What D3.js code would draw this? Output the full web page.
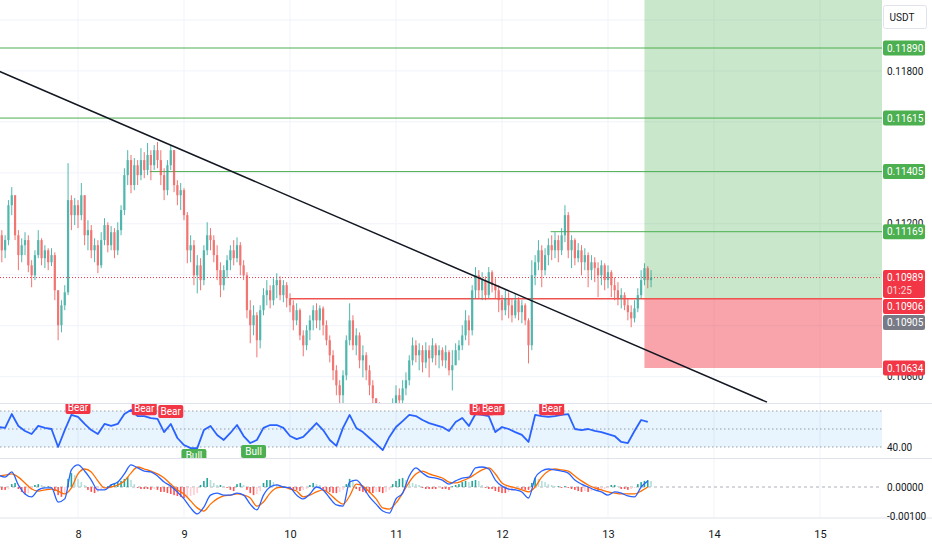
<!DOCTYPE html>
<html>
<head>
<meta charset="utf-8">
<script src="https://cdn.jsdelivr.net/npm/d3@7"></script>
<style>
  body { margin: 0; background: #fff; }
  svg { display: block; }
</style>
</head>
<body>
<svg id="chart" width="932" height="550"></svg>
<script>
// 45 minute bars, first bar on the 7th at 06:00 (UTC)
var t0 = Date.UTC(2024, 6, 7, 6, 0);
var barMinutes = 45;
var firstOpen = 0.11195;

var closes = [
  0.11155,0.11096,0.11136,0.11273,0.11312,0.11155,0.11077,0.11116,0.11136,0.11037,
  0.10998,0.11077,0.11136,0.11065,0.11096,0.11049,0.11077,0.10939,0.10802,0.10880,
  0.10931,0.11293,0.11234,0.11273,0.11234,0.11312,0.11155,0.11175,0.11096,0.11116,
  0.11037,0.11136,0.11195,0.11116,0.11167,0.11096,0.11175,0.11254,0.11391,0.11450,
  0.11352,0.11430,0.11391,0.11450,0.11411,0.11470,0.11430,0.11489,0.11450,0.11391,
  0.11332,0.11430,0.11489,0.11352,0.11312,0.11332,0.11234,0.11096,0.11116,0.10998,
  0.11037,0.10979,0.11096,0.11155,0.11136,0.11077,0.11018,0.10959,0.11018,0.11057,
  0.11096,0.11065,0.11116,0.11037,0.10998,0.10861,0.10802,0.10841,0.10743,0.10861,
  0.10920,0.10939,0.10900,0.10959,0.10979,0.10920,0.10959,0.10908,0.10880,0.10821,
  0.10861,0.10762,0.10723,0.10782,0.10821,0.10861,0.10821,0.10868,0.10802,0.10743,
  0.10684,0.10625,0.10566,0.10527,0.10605,0.10743,0.10821,0.10723,0.10762,0.10664,
  0.10684,0.10625,0.10566,0.10515,0.10487,0.10476,0.10468,0.10483,0.10460,0.10495,
  0.10527,0.10507,0.10554,0.10586,0.10664,0.10723,0.10684,0.10704,0.10656,0.10704,
  0.10672,0.10723,0.10684,0.10704,0.10664,0.10696,0.10625,0.10645,0.10704,0.10723,
  0.10762,0.10821,0.10782,0.10939,0.10998,0.10939,0.10979,0.10920,0.11010,0.10959,
  0.10939,0.10900,0.10861,0.10908,0.10880,0.10841,0.10900,0.10853,0.10880,0.10821,
  0.10723,0.10998,0.11049,0.11096,0.11018,0.11077,0.11116,0.11096,0.11136,0.11096,
  0.11155,0.11234,0.11096,0.11136,0.11065,0.11096,0.11049,0.11077,0.11018,0.11049,
  0.11026,0.10998,0.11037,0.10979,0.11010,0.10959,0.10939,0.10908,0.10920,0.10880,
  0.10853,0.10829,0.10868,0.10920,0.10979,0.11026,0.10979,0.10989
];

var highs = [
  0.11234,0.11175,0.11155,0.11293,0.11344,0.11312,0.11175,0.11143,0.11167,0.11155,
  0.11057,0.11096,0.11175,0.11143,0.11116,0.11104,0.11104,0.11088,0.10939,0.10900,
  0.10959,0.11438,0.11312,0.11301,0.11293,0.11360,0.11312,0.11214,0.11195,0.11143,
  0.11136,0.11167,0.11222,0.11206,0.11191,0.11183,0.11206,0.11273,0.11418,0.11489,
  0.11470,0.11458,0.11450,0.11497,0.11481,0.11517,0.11489,0.11509,0.11521,0.11489,
  0.11418,0.11450,0.11509,0.11489,0.11371,0.11360,0.11340,0.11246,0.11155,0.11136,
  0.11077,0.11065,0.11116,0.11206,0.11183,0.11155,0.11116,0.11049,0.11037,0.11077,
  0.11116,0.11136,0.11147,0.11128,0.11057,0.11010,0.10900,0.10880,0.10853,0.10880,
  0.10947,0.10979,0.10959,0.10986,0.11006,0.10994,0.10979,0.10971,0.10927,0.10900,
  0.10888,0.10868,0.10782,0.10802,0.10841,0.10880,0.10888,0.10880,0.10876,0.10821,
  0.10762,0.10704,0.10645,0.10586,0.10625,0.10762,0.10888,0.10841,0.10790,0.10774,
  0.10723,0.10696,0.10645,0.10586,0.10515,0.10499,0.10491,0.10495,0.10487,0.10515,
  0.10566,0.10554,0.10586,0.10617,0.10684,0.10754,0.10743,0.10731,0.10723,0.10735,
  0.10723,0.10751,0.10731,0.10723,0.10715,0.10723,0.10704,0.10704,0.10731,0.10743,
  0.10802,0.10861,0.10841,0.10959,0.11030,0.11018,0.11010,0.10994,0.11030,0.11018,
  0.10986,0.10959,0.10920,0.10939,0.10931,0.10908,0.10927,0.10912,0.10900,0.10888,
  0.10829,0.11057,0.11077,0.11136,0.11116,0.11104,0.11143,0.11155,0.11167,0.11155,
  0.11183,0.11273,0.11246,0.11155,0.11143,0.11124,0.11116,0.11104,0.11088,0.11077,
  0.11069,0.11049,0.11057,0.11045,0.11037,0.11018,0.10990,0.10971,0.10947,0.10931,
  0.10908,0.10880,0.10900,0.10947,0.11018,0.11045,0.11034,0.11018
];

var lows = [
  0.11136,0.11049,0.11065,0.11116,0.11234,0.11136,0.11018,0.11049,0.11077,0.11010,
  0.10951,0.10979,0.11065,0.11037,0.11026,0.11018,0.11034,0.10900,0.10743,0.10774,
  0.10861,0.10920,0.11175,0.11195,0.11183,0.11214,0.11116,0.11096,0.11065,0.11049,
  0.11006,0.11026,0.11116,0.11088,0.11096,0.11065,0.11077,0.11155,0.11234,0.11352,
  0.11320,0.11332,0.11352,0.11371,0.11379,0.11391,0.11371,0.11411,0.11418,0.11352,
  0.11293,0.11312,0.11411,0.11324,0.11273,0.11254,0.11214,0.11045,0.11049,0.10959,
  0.10927,0.10939,0.10959,0.11077,0.11096,0.11049,0.10979,0.10912,0.10939,0.10986,
  0.11018,0.11037,0.11049,0.10998,0.10979,0.10829,0.10731,0.10762,0.10676,0.10711,
  0.10841,0.10880,0.10868,0.10880,0.10908,0.10900,0.10892,0.10872,0.10853,0.10782,
  0.10802,0.10743,0.10680,0.10704,0.10743,0.10782,0.10790,0.10782,0.10762,0.10723,
  0.10656,0.10586,0.10527,0.10495,0.10495,0.10586,0.10723,0.10704,0.10684,0.10633,
  0.10597,0.10586,0.10527,0.10487,0.10460,0.10448,0.10436,0.10428,0.10428,0.10444,
  0.10468,0.10476,0.10487,0.10527,0.10566,0.10645,0.10656,0.10625,0.10617,0.10633,
  0.10597,0.10656,0.10645,0.10633,0.10641,0.10633,0.10605,0.10546,0.10652,0.10664,
  0.10704,0.10743,0.10723,0.10762,0.10908,0.10908,0.10900,0.10900,0.10908,0.10931,
  0.10908,0.10853,0.10821,0.10841,0.10829,0.10813,0.10829,0.10821,0.10810,0.10802,
  0.10652,0.10704,0.10959,0.11018,0.10951,0.10998,0.11037,0.11057,0.11065,0.11049,
  0.11077,0.11128,0.11065,0.11026,0.11037,0.11049,0.10998,0.11018,0.10951,0.10979,
  0.10971,0.10912,0.10959,0.10939,0.10947,0.10912,0.10900,0.10880,0.10868,0.10861,
  0.10821,0.10794,0.10813,0.10853,0.10908,0.10959,0.10947,0.10951
];

// RSI / MACD / signal are read every second bar
var indicatorStep = 2;

var rsi = [
  51.1,50.6,58.3,51.7,48.9,47.2,51.7,50.6,50.0,40.0,
  49.4,57.8,56.7,52.8,49.4,47.2,52.8,51.7,52.8,58.3,
  60.6,57.2,57.2,56.1,55.6,48.3,52.8,45.0,41.1,39.4,
  39.4,49.4,51.7,46.7,43.9,47.8,52.2,46.1,42.2,43.9,
  50.6,52.2,52.2,50.6,46.1,44.4,45.6,49.4,53.3,49.4,
  43.9,40.6,50.6,57.8,50.6,48.3,45.0,41.7,38.3,45.6,
  51.1,54.4,57.8,57.2,55.0,53.3,52.2,51.1,48.9,53.9,
  56.1,51.7,58.3,57.8,57.2,48.3,51.1,50.0,48.3,46.7,
  42.8,57.8,57.2,56.7,57.2,57.8,58.3,50.0,49.4,50.0,
  48.9,48.3,47.2,46.1,42.8,42.2,48.9,55.0,53.9
];

var macd = [
  0.00041,0.00034,0.00052,0.00007,-0.00024,-0.00034,-0.00010,-0.00003,-0.00003,-0.00052,
  -0.00041,0.00059,0.00076,0.00055,0.00024,-0.00010,-0.00010,0.00007,0.00017,0.00045,
  0.00076,0.00066,0.00055,0.00052,0.00038,0.00017,0.00003,-0.00017,-0.00041,-0.00072,
  -0.00093,-0.00069,-0.00028,-0.00021,-0.00028,-0.00028,-0.00021,-0.00028,-0.00059,-0.00079,
  -0.00028,0.00000,0.00007,0.00000,-0.00003,-0.00028,-0.00041,-0.00024,0.00000,-0.00010,
  -0.00038,-0.00062,-0.00066,0.00017,0.00024,0.00000,-0.00034,-0.00059,-0.00083,-0.00090,
  -0.00041,-0.00021,0.00038,0.00066,0.00048,0.00034,0.00031,0.00024,0.00010,0.00021,
  0.00031,0.00034,0.00066,0.00069,0.00062,0.00024,0.00003,-0.00007,-0.00010,-0.00017,
  -0.00038,0.00031,0.00055,0.00062,0.00059,0.00055,0.00048,0.00024,0.00010,0.00000,
  -0.00010,-0.00017,-0.00028,-0.00017,-0.00021,-0.00031,-0.00034,0.00000,0.00021
];

var signal = [
  0.00038,0.00041,0.00045,0.00034,0.00014,-0.00007,-0.00014,-0.00010,-0.00007,-0.00014,
  -0.00024,-0.00003,0.00045,0.00062,0.00052,0.00021,-0.00003,0.00000,0.00007,0.00021,
  0.00048,0.00069,0.00062,0.00055,0.00045,0.00031,0.00010,-0.00010,-0.00024,-0.00048,
  -0.00072,-0.00083,-0.00059,-0.00041,-0.00031,-0.00028,-0.00024,-0.00028,-0.00038,-0.00066,
  -0.00052,-0.00021,-0.00003,0.00000,-0.00007,-0.00014,-0.00034,-0.00028,-0.00017,-0.00010,
  -0.00024,-0.00045,-0.00059,-0.00031,0.00010,0.00003,-0.00017,-0.00041,-0.00072,-0.00076,
  -0.00055,-0.00021,0.00017,0.00045,0.00055,0.00045,0.00038,0.00031,0.00017,0.00014,
  0.00021,0.00031,0.00045,0.00059,0.00066,0.00045,0.00014,0.00003,-0.00003,-0.00010,
  -0.00017,0.00000,0.00034,0.00055,0.00062,0.00059,0.00055,0.00038,0.00021,0.00007,
  -0.00003,-0.00010,-0.00017,-0.00021,-0.00024,-0.00024,-0.00024,-0.00014,0.00000
];

// histogram, one value per bar
var hist = [
  -0.00007,-0.00010,-0.00010,-0.00007,0.00010,0.00014,-0.00007,-0.00017,-0.00024,-0.00021,
  -0.00010,0.00007,0.00010,0.00007,0.00003,0.00003,-0.00003,-0.00014,-0.00028,-0.00034,
  -0.00021,0.00028,0.00048,0.00041,0.00028,0.00017,0.00007,-0.00010,-0.00017,-0.00021,
  -0.00017,-0.00010,-0.00003,0.00003,0.00010,0.00014,0.00017,0.00021,0.00028,0.00034,
  0.00024,0.00010,-0.00003,-0.00007,-0.00007,-0.00007,-0.00010,-0.00007,-0.00010,-0.00017,
  -0.00017,-0.00021,-0.00024,-0.00028,-0.00031,-0.00034,-0.00038,-0.00034,-0.00031,-0.00028,
  -0.00021,0.00007,0.00021,0.00031,0.00024,0.00014,0.00007,0.00007,0.00003,-0.00003,
  -0.00010,-0.00014,0.00010,0.00014,0.00007,-0.00010,-0.00021,-0.00028,-0.00024,-0.00014,
  0.00014,0.00024,0.00024,0.00017,0.00010,0.00007,0.00003,-0.00003,-0.00007,-0.00010,
  -0.00010,-0.00014,-0.00010,-0.00007,0.00007,0.00014,0.00010,0.00007,-0.00007,-0.00014,
  -0.00017,-0.00021,-0.00021,-0.00017,-0.00010,0.00010,0.00028,0.00021,-0.00007,-0.00014,
  -0.00017,-0.00021,-0.00021,-0.00021,-0.00017,-0.00017,-0.00021,-0.00017,-0.00010,0.00010,
  0.00021,0.00028,0.00031,0.00024,0.00017,0.00014,0.00010,0.00007,-0.00003,-0.00007,
  -0.00007,-0.00007,-0.00007,-0.00003,-0.00007,-0.00007,-0.00010,0.00003,0.00007,0.00010,
  0.00017,0.00021,0.00017,0.00021,0.00024,0.00021,0.00007,-0.00003,-0.00007,-0.00007,
  -0.00014,-0.00017,-0.00021,-0.00021,-0.00017,-0.00014,-0.00010,-0.00007,-0.00007,-0.00010,
  -0.00010,0.00014,0.00031,0.00028,0.00021,0.00017,0.00010,0.00007,0.00003,0.00003,
  -0.00003,0.00003,-0.00003,-0.00007,-0.00010,-0.00014,-0.00017,-0.00014,-0.00017,-0.00014,
  -0.00010,-0.00014,-0.00010,-0.00007,-0.00003,0.00007,0.00007,0.00003,-0.00007,-0.00007,
  -0.00010,-0.00007,-0.00003,0.00010,0.00017,0.00021,0.00024,0.00021
];

// divergence tags on the RSI (bar index, RSI level of the tag)
var bearBars = [24, 44, 52, 146, 149, 167];
var bearLevels = [62.0, 61.3, 59.7, 61.3, 61.3, 61.3];
var bullBars = [59, 77];
var bullLevels = [35.3, 37.5];

// drawings
var targetLevels = [0.11890, 0.11615, 0.11405, 0.11169];
var targetStarts = ["2024-07-07T00:00Z", "2024-07-07T00:00Z", "2024-07-08T16:15Z", "2024-07-12T11:00Z"];
var supportLevel = 0.10906;
var supportStart = "2024-07-10T00:00Z";
var trendStart = ["2024-07-07T06:00Z", 0.11800];
var trendEnd = ["2024-07-14T12:00Z", 0.10500];
var entryPrice = 0.10905;
var stopPrice = 0.10634;
var profitPrice = 0.12100;
var positionStart = "2024-07-13T08:15Z";
var positionEnd = "2024-07-16T00:00Z";
var countdown = "01:25";

// axes
var dayTicks = [8, 9, 10, 11, 12, 13, 14, 15];
var priceTicks = [0.106, 0.108, 0.110, 0.112, 0.114, 0.116, 0.118, 0.120];
var rsiTicks = [40];
var macdTicks = [0, -0.001];

var FONT = "Roboto, 'Liberation Sans', sans-serif";
var plotRight = 882;
var mainBottom = 403, rsiTop = 404, rsiBottom = 458, macdTop = 459, macdBottom = 517;

var svg = d3.select("#chart");

var barDate = function(i) { return new Date(t0 + i * barMinutes * 60000); };
var dayDate = function(d) { return new Date(Date.UTC(2024, 6, d)); };

var x = d3.scaleUtc()
  .domain([dayDate(8), dayDate(15)])
  .range([78, 820]);

var y = d3.scaleLinear()
  .domain([0.11890, 0.10634])
  .range([48, 368]);

var yRsi = d3.scaleLinear().domain([40, 60]).range([447, 411]);
var yMacd = d3.scaleLinear().domain([-0.001, 0]).range([516, 487]);

var bars = closes.map(function(c, i) {
  var o = i === 0 ? firstOpen : closes[i - 1];
  return { date: barDate(i), o: o, c: c,
           h: Math.max(highs[i], o, c), l: Math.min(lows[i], o, c) };
});

var defs = svg.append("defs");
function clip(id, top, bottom) {
  defs.append("clipPath").attr("id", id)
    .append("rect").attr("x", 0).attr("y", top)
    .attr("width", plotRight).attr("height", bottom - top);
}
clip("clip-main", 0, mainBottom);
clip("clip-rsi", rsiTop, rsiBottom);
clip("clip-macd", macdTop, macdBottom);

// grid
var grid = svg.append("g");
grid.selectAll("line.vgrid")
  .data(dayTicks)
  .join("line")
  .attr("class", "vgrid")
  .attr("x1", function(d) { return x(dayDate(d)); })
  .attr("x2", function(d) { return x(dayDate(d)); })
  .attr("y1", 0).attr("y2", macdBottom)
  .attr("stroke", "#f0f3fa");

grid.selectAll("line.hgrid")
  .data(priceTicks)
  .join("line")
  .attr("class", "hgrid")
  .attr("x1", 0).attr("x2", plotRight)
  .attr("y1", function(d) { return y(d); })
  .attr("y2", function(d) { return y(d); })
  .attr("stroke", "#f0f3fa");

// main pane
var main = svg.append("g").attr("clip-path", "url(#clip-main)");

// long position tool
var posX0 = x(new Date(positionStart)), posX1 = x(new Date(positionEnd));
main.append("rect")
  .attr("x", posX0).attr("width", posX1 - posX0)
  .attr("y", y(profitPrice)).attr("height", y(entryPrice) - y(profitPrice))
  .attr("fill", "rgba(76,175,80,0.3)");
main.append("rect")
  .attr("x", posX0).attr("width", posX1 - posX0)
  .attr("y", y(entryPrice)).attr("height", y(stopPrice) - y(entryPrice))
  .attr("fill", "rgba(242,54,69,0.45)");

// horizontal levels
main.selectAll("line.target")
  .data(targetLevels)
  .join("line")
  .attr("class", "target")
  .attr("x1", function(d, i) { return x(new Date(targetStarts[i])); })
  .attr("x2", plotRight)
  .attr("y1", function(d) { return y(d); })
  .attr("y2", function(d) { return y(d); })
  .attr("stroke", "#4caf50")
  .attr("stroke-width", 1);

main.append("line")
  .attr("x1", x(new Date(supportStart))).attr("x2", plotRight)
  .attr("y1", y(supportLevel)).attr("y2", y(supportLevel))
  .attr("stroke", "#ef5350").attr("stroke-width", 1.6);

var lastClose = closes[closes.length - 1];
main.append("line")
  .attr("x1", 0).attr("x2", plotRight)
  .attr("y1", y(lastClose)).attr("y2", y(lastClose))
  .attr("stroke", "#f23645").attr("stroke-width", 1)
  .attr("stroke-dasharray", "1,2");

// candles
var candleColor = function(d) {
  if (Math.abs(d.c - d.o) < 0.00005) return "#5d606b";
  return d.c >= d.o ? "#26a69a" : "#ef5350";
};

var candle = main.append("g").attr("opacity", 0.8)
  .selectAll("g")
  .data(bars)
  .join("g");

candle.append("line")
  .attr("x1", function(d) { return x(d.date); })
  .attr("x2", function(d) { return x(d.date); })
  .attr("y1", function(d) { return y(d.h); })
  .attr("y2", function(d) { return y(d.l); })
  .attr("stroke", candleColor)
  .attr("stroke-width", 1);

candle.append("rect")
  .attr("x", function(d) { return x(d.date) - 1.1; })
  .attr("width", 2.2)
  .attr("y", function(d) { return y(Math.max(d.o, d.c)); })
  .attr("height", function(d) { return Math.max(1, Math.abs(y(d.o) - y(d.c))); })
  .attr("fill", candleColor);

// trend line
main.append("line")
  .attr("x1", x(new Date(trendStart[0]))).attr("y1", y(trendStart[1]))
  .attr("x2", x(new Date(trendEnd[0]))).attr("y2", y(trendEnd[1]))
  .attr("stroke", "#131722").attr("stroke-width", 1.5);

// RSI pane
var rsiPane = svg.append("g").attr("clip-path", "url(#clip-rsi)");
rsiPane.append("rect")
  .attr("x", 0).attr("width", plotRight)
  .attr("y", yRsi(60)).attr("height", yRsi(40) - yRsi(60))
  .attr("fill", "rgba(33,150,243,0.1)");

rsiPane.selectAll("line.band")
  .data([60, 50, 40])
  .join("line")
  .attr("class", "band")
  .attr("x1", 0).attr("x2", plotRight)
  .attr("y1", function(d) { return yRsi(d); })
  .attr("y2", function(d) { return yRsi(d); })
  .attr("stroke", "#787b86")
  .attr("stroke-opacity", 0.7)
  .attr("stroke-dasharray", "1.5,2.5");

var indexDate = function(d, j) { return x(barDate(j * indicatorStep)); };

rsiPane.append("path")
  .datum(rsi)
  .attr("fill", "none")
  .attr("stroke", "#2962ff")
  .attr("stroke-width", 1.8)
  .attr("stroke-linejoin", "round")
  .attr("d", d3.line().x(indexDate).y(function(d) { return yRsi(d); }));

function tag(list, levels, text, color) {
  var g = rsiPane.append("g")
    .selectAll("g")
    .data(list)
    .join("g")
    .attr("transform", function(d, i) {
      return "translate(" + x(barDate(d)) + "," + yRsi(levels[i]) + ")";
    });
  g.append("rect")
    .attr("x", -12.5).attr("y", -6.5)
    .attr("width", 25).attr("height", 13).attr("rx", 2)
    .attr("fill", color);
  g.append("text")
    .attr("text-anchor", "middle")
    .attr("dy", "0.35em")
    .attr("fill", "#fff")
    .attr("font-family", FONT)
    .attr("font-size", 10)
    .text(text);
}
tag(bearBars, bearLevels, "Bear", "#f23645");
tag(bullBars, bullLevels, "Bull", "#4caf50");

// MACD pane
var macdPane = svg.append("g").attr("clip-path", "url(#clip-macd)");
macdPane.append("line")
  .attr("x1", 0).attr("x2", plotRight)
  .attr("y1", yMacd(0)).attr("y2", yMacd(0))
  .attr("stroke", "#787b86").attr("stroke-opacity", 0.6)
  .attr("stroke-dasharray", "3,3");

macdPane.selectAll("rect.hist")
  .data(hist)
  .join("rect")
  .attr("class", "hist")
  .attr("x", function(d, i) { return x(barDate(i)) - 0.8; })
  .attr("width", 1.6)
  .attr("y", function(d) { return Math.min(yMacd(d), yMacd(0)); })
  .attr("height", function(d) { return Math.abs(yMacd(d) - yMacd(0)); })
  .attr("fill", function(d, i) {
    var prev = i > 0 ? hist[i - 1] : 0;
    if (d >= 0) return d >= prev ? "#26a69a" : "#b2dfdb";
    return d <= prev ? "#ff5252" : "#ffcdd2";
  });

var macdLine = d3.line().x(indexDate).y(function(d) { return yMacd(d); })
  .curve(d3.curveMonotoneX);

macdPane.append("path").datum(signal)
  .attr("fill", "none").attr("stroke", "#ff6d00").attr("stroke-width", 1.3)
  .attr("d", macdLine);
macdPane.append("path").datum(macd)
  .attr("fill", "none").attr("stroke", "#2962ff").attr("stroke-width", 1.3)
  .attr("d", macdLine);

// pane separators
svg.selectAll("line.sep")
  .data([rsiTop - 0.5, macdTop - 0.5, macdBottom + 1])
  .join("line")
  .attr("class", "sep")
  .attr("x1", 0).attr("x2", 932)
  .attr("y1", function(d) { return d; })
  .attr("y2", function(d) { return d; })
  .attr("stroke", "#e0e3eb");

// currency box
var unitBox = [5.5, 28.5];
svg.append("rect")
  .attr("x", 883.5).attr("y", unitBox[0]).attr("width", 43)
  .attr("height", unitBox[1] - unitBox[0]).attr("rx", 2)
  .attr("fill", "#fff").attr("stroke", "#e0e3eb");
svg.append("text")
  .attr("x", 902).attr("y", 17).attr("dy", "0.35em")
  .attr("text-anchor", "middle")
  .attr("font-family", FONT).attr("font-size", 10).attr("fill", "#131722")
  .text("USDT");

// price tags on the scale, stacked so they do not overlap
var tags = targetLevels.map(function(p) { return { price: p, fill: "#4caf50", lines: [p] }; })
  .concat([
    { price: lastClose, fill: "#f23645", lines: [lastClose, countdown] },
    { price: supportLevel, fill: "#f23645", lines: [supportLevel] },
    { price: entryPrice, fill: "#787b86", lines: [entryPrice] },
    { price: stopPrice, fill: "#f23645", lines: [stopPrice] }
  ])
  .sort(function(a, b) { return y(a.price) - y(b.price); });

var prevBottom = -Infinity;
var covered = [unitBox];
tags.forEach(function(t) {
  var h = t.lines.length > 1 ? 28 : 15;
  t.top = Math.max(y(t.price) - 7.5, prevBottom + 1);
  t.h = h;
  prevBottom = t.top + h;
  covered.push([t.top, t.top + h]);
});

// right axes (tick labels hidden by a tag are left out, as on the scale)
function styleAxis(g) {
  g.select(".domain").remove();
  g.selectAll("text")
    .attr("font-family", FONT)
    .attr("font-size", 10)
    .attr("fill", "#131722");
}

svg.append("g")
  .attr("transform", "translate(" + plotRight + ",0)")
  .call(d3.axisRight(y)
    .tickValues(priceTicks.filter(function(p) {
      return !covered.some(function(b) { return y(p) >= b[0] && y(p) <= b[1]; });
    }))
    .tickSize(0).tickPadding(5)
    .tickFormat(d3.format(".5f")))
  .call(styleAxis);

svg.append("g")
  .attr("transform", "translate(" + plotRight + ",0)")
  .call(d3.axisRight(yRsi).tickValues(rsiTicks).tickSize(0).tickPadding(5)
    .tickFormat(d3.format(".2f")))
  .call(styleAxis);

svg.append("g")
  .attr("transform", "translate(" + plotRight + ",0)")
  .call(d3.axisRight(yMacd).tickValues(macdTicks).tickSize(0).tickPadding(5)
    .tickFormat(function(d) { return d3.format(".5f")(d).replace("−", "-"); }))
  .call(styleAxis);

// time axis
svg.append("g")
  .attr("transform", "translate(0,527)")
  .call(d3.axisBottom(x).tickValues(dayTicks.map(dayDate)).tickSize(0)
    .tickFormat(d3.utcFormat("%-d")))
  .call(function(g) {
    g.select(".domain").remove();
    g.selectAll("text").attr("font-family", FONT).attr("font-size", 11)
      .attr("fill", "#131722");
  });

tags.forEach(function(t) {
  var g = svg.append("g").attr("transform", "translate(883," + t.top + ")");
  g.append("rect").attr("width", 42).attr("height", t.h).attr("rx", 2).attr("fill", t.fill);
  g.selectAll("text")
    .data(t.lines)
    .join("text")
    .attr("x", 4)
    .attr("y", function(d, i) { return 7.5 + i * 13; })
    .attr("dy", "0.35em")
    .attr("font-family", FONT).attr("font-size", 10)
    .attr("fill", function(d, i) { return i === 0 ? "#fff" : "rgba(255,255,255,0.8)"; })
    .text(function(d) { return typeof d === "number" ? d3.format(".5f")(d) : d; });
});
</script>
</body>
</html>
